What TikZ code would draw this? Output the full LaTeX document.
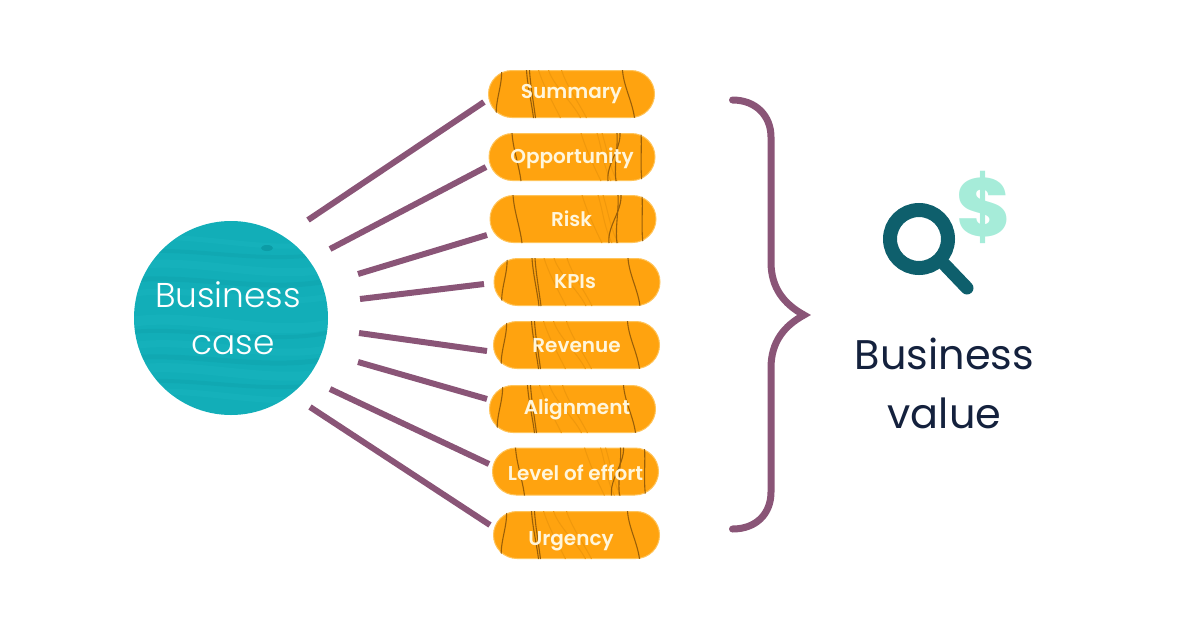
\documentclass[tikz,border=0pt]{standalone}
\usepackage{fontspec}
\setmainfont{Poppins}
\newfontfamily\popl{Poppins Light}
\newfontfamily\pops{Poppins SemiBold}
\newfontfamily\popx{Poppins ExtraBold}
\definecolor{plum}{HTML}{8A5577}
\definecolor{tealc}{HTML}{12AEB8}
\definecolor{tealdk}{HTML}{0C9CA6}
\definecolor{teallt}{HTML}{1FBAC2}
\definecolor{orangec}{HTML}{FFA30F}
\definecolor{orangedk}{HTML}{9A5F08}
\definecolor{orangesoft}{HTML}{F0980C}
\definecolor{orangeedge}{HTML}{FFC45A}
\definecolor{cream}{HTML}{FFF6DC}
\definecolor{navy}{HTML}{14213D}
\definecolor{lens}{HTML}{0E5F6C}
\definecolor{mint}{HTML}{A6ECD9}
\tikzset{
  x=1pt,y=-1pt,
  spoke/.style={draw=plum,line width=6pt},
  grain/.style={draw=orangedk,line width=1.1pt},
  grainsoft/.style={draw=orangesoft,line width=1pt},
  pill/.style={draw=orangeedge,line width=1pt,fill=orangec,rounded corners=23.5pt,minimum width=166pt,minimum height=47pt,inner sep=0pt},
  pilltext/.style={inner sep=0pt,text=cream,font=\pops\fontsize{20}{20}\selectfont,text height=14pt,text depth=4pt},
  bigcircle/.style={circle,fill=tealc,minimum size=194pt,inner sep=0pt},
  circletext/.style={inner sep=0pt,text=white,align=center,font=\popl\fontsize{34.4}{47}\selectfont},
  valuetext/.style={text=navy,align=center,inner sep=0pt,font=\fontsize{41.4}{59}\selectfont},
  bracepath/.style={draw=plum,line width=7pt,line cap=round,line join=miter},
}
% wood-grain texture, clipped to a pill; #2 = dark lines, #3 = soft lines (top/bottom x offset from the centre)
\newcommand{\pillgrain}[3]{%
  \begin{scope}
    \clip[rounded corners=23pt] (#1.north west) rectangle (#1.south east);
    \begin{scope}[shift={(#1.center)}]
      \foreach \a/\b in {#3}{\draw[grainsoft] (\a,-24) .. controls (\a+5,-8) and (\b-8,8) .. (\b,24);}
      \foreach \a/\b in {#2}{\draw[grain] (\a,-24) .. controls (\a+1,-8) and (\b-2,8) .. (\b,24);}
    \end{scope}
  \end{scope}}
\newcommand{\grainA}[1]{\pillgrain{#1}{-60/-51,45/44,48/36,69/70}{9/29,25/39,30/45}}
\newcommand{\grainB}[1]{\pillgrain{#1}{-70/-75,-45/-38,-42/-36,51/63}{-33/-11,-23/9,-10/15}}
\begin{document}
\begin{tikzpicture}
\useasboundingbox (0,0) rectangle (1200,630);
\node[bigcircle] (biz) at (231,318) {};
\begin{scope}
  \clip (biz) circle[radius=97pt];
  \begin{scope}[shift={(biz.center)}]
    \foreach \y/\w in {-78/5,-52/8,-24/6,4/10,28/7,52/9,76/6}{
      \draw[teallt,opacity=.3,line width=\w pt] (-100,\y) .. controls (-40,\y-10) and (40,\y+16) .. (100,\y+2);}
    \foreach \y/\w in {-66/4,-38/5,14/4,40/5,64/4}{
      \draw[tealdk,opacity=.3,line width=\w pt] (-100,\y) .. controls (-40,\y-6) and (40,\y+14) .. (100,\y);}
    \fill[tealdk] (36,-70) ellipse[x radius=6pt,y radius=3pt];
  \end{scope}
\end{scope}
\node[circletext] (biztext) at (228,318) {Business\\\hspace*{10pt}case};
\node[pill] (p1) at (571.5,94) {};
\node[pill] (p2) at (572,157) {};
\node[pill] (p3) at (573,219) {};
\node[pill] (p4) at (577,282) {};
\node[pill] (p5) at (576.5,345) {};
\node[pill] (p6) at (572.5,409) {};
\node[pill] (p7) at (575.5,471.5) {};
\node[pill] (p8) at (576.5,535) {};
\grainB{p1}\grainA{p2}\grainA{p3}\grainB{p4}\grainB{p5}\grainB{p6}\grainA{p7}\grainB{p8}
\node[pilltext] (t1) at (571.5,93.5) {Summary};
\node[pilltext] (t2) at (572,158) {Opportunity};
\node[pilltext] (t3) at (571.5,221) {Risk};
\node[pilltext] (t4) at (575,283) {KPIs};
\node[pilltext] (t5) at (576.5,347) {Revenue};
\node[pilltext] (t6) at (577,409.5) {Alignment};
\node[pilltext] (t7) at (575.5,475) {Level of effort};
\node[pilltext] (t8) at (571,540) {Urgency};
\coordinate (s1) at (308,220); \coordinate (e1) at (484,102);
\coordinate (s2) at (330,249); \coordinate (e2) at (486,167);
\coordinate (s3) at (358,274); \coordinate (e3) at (487,235);
\coordinate (s4) at (360,299); \coordinate (e4) at (484,284);
\coordinate (s5) at (359,333); \coordinate (e5) at (487,351);
\coordinate (s6) at (358,362); \coordinate (e6) at (487,399);
\coordinate (s7) at (330,389); \coordinate (e7) at (489,464);
\coordinate (s8) at (310,407); \coordinate (e8) at (490,525);
\foreach \i in {1,...,8}{\draw[spoke] (s\i) -- (e\i);}
\coordinate (bt) at (732.5,100); \coordinate (bb) at (732.5,529); \coordinate (tip) at (804,315);
\draw[bracepath] (bt) .. controls (756,100) and (771,116) .. (771,137) -- (771,262)
  .. controls (771,288) and (784,304) .. (tip)
  .. controls (784,326) and (771,342) .. (771,368) -- (771,492)
  .. controls (771,514) and (756,529) .. (bb);
\node[text=mint,inner sep=0pt,font=\popx\fontsize{82}{82}\selectfont] (dollar) at (984,207) {\$};
\node[circle,draw=lens,line width=14pt,minimum size=58pt,inner sep=0pt] (glass) at (919,239) {};
\coordinate (hend) at (967,288);
\draw[draw=lens,line width=13pt,line cap=round] (glass) ++(26,26) -- (hend);
\node[valuetext] (val) at (944.5,383) {Business\\value};
\end{tikzpicture}
\end{document}
